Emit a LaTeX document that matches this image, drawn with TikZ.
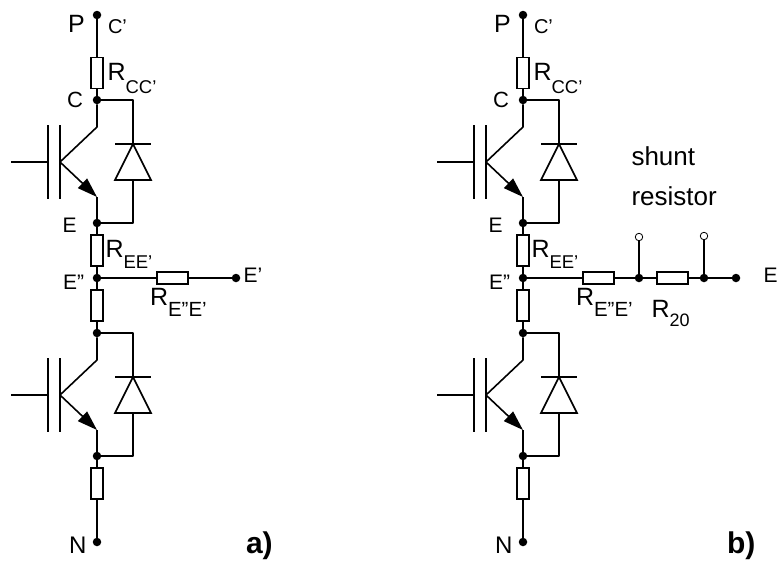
\documentclass[tikz,border=0pt]{standalone}
\usepackage{fontspec}
\setmainfont{Liberation Sans}
\usetikzlibrary{arrows.meta}
\newcommand{\fs}[1]{\fontsize{#1}{#1}\selectfont}
\newcommand{\Rlab}[3]{\fs{25}R\raisebox{-#2pt}{\fs{#3}#1}}
% one switch: collector dot at (0,0), emitter dot at (0,123)
\newcommand{\switchcell}[1]{%
  \node[dotn] (#1c) at (0,0) {};
  \node[dotn] (#1e) at (0,123) {};
  \coordinate (#1k) at (0,27);
  \coordinate (#1g) at (-37,62);
  \coordinate (#1m) at (0,97);
  \coordinate (#1gi) at (-86,62);
  \coordinate (#1gp) at (-49,62);
  \coordinate (#1tr) at (36,0);
  \coordinate (#1br) at (36,123);
  \coordinate (#1ap) at (36,44);
  \coordinate (#1bm) at (36,80);
  \draw[wire] (#1c) -- (#1k) -- (#1g);
  \draw[wire,-{Triangle[length=20pt,width=13pt]}] (#1g) -- (#1m);
  \draw[wire] (#1m) -- (#1e);
  \draw[wire] (#1gi) -- (#1gp);
  \draw[wire] (-49,25) -- (-49,99);
  \draw[wire] (-37,25) -- (-37,99);
  \draw[wire] (#1c) -- (#1tr) -- (#1ap);
  \draw[wire] (#1bm) -- (#1br) -- (#1e);
  \draw[wire] (18,44) -- (54,44);
  \draw[wire,line join=miter] (#1ap) -- (54,80) -- (18,80) -- cycle;
}
% complete vertical leg with its labels
\newcommand{\leg}[1]{%
  \node[dotn] (#1P) at (97,15) {};
  \node[resv] (#1Rc) at (97,73) {};
  \begin{scope}[shift={(97,100)}]\switchcell{#1u}\end{scope}
  \node[resv] (#1Re) at (97,250.5) {};
  \node[dotn] (#1M) at (97,278) {};
  \node[resv] (#1Rl) at (97,305.5) {};
  \begin{scope}[shift={(97,333)}]\switchcell{#1l}\end{scope}
  \node[resv] (#1Rn) at (97,483.5) {};
  \node[dotn] (#1N) at (97,542) {};
  \draw[wire] (#1P) -- (#1Rc) -- (#1uc);
  \draw[wire] (#1ue) -- (#1Re) -- (#1M) -- (#1Rl) -- (#1lc);
  \draw[wire] (#1le) -- (#1Rn) -- (#1N);
  \node[lab,font=\fs{25}] (#1tP) at (68,32) {P};
  \node[lab,font=\fs{20}] (#1tC1) at (108,33) {C'};
  \node[lab] (#1tR1) at (107.5,80) {\Rlab{CC'}{13}{18.5}};
  \node[lab,font=\fs{22}] (#1tC) at (67,107) {C};
  \node[lab,font=\fs{21}] (#1tE) at (62.5,232) {E};
  \node[lab] (#1tR2) at (105.5,257) {\Rlab{EE'}{11}{18.5}};
  \node[lab,font=\fs{21}] (#1tM) at (63,289) {E''};
  \node[lab,font=\fs{24}] (#1tN) at (69,553) {N};
  \node[lab] (#1tR3) at (150,305) {\Rlab{E''E'}{11}{20.5}};
}
\tikzset{
  wire/.style={line width=1.6pt,black,line cap=butt,line join=round},
  dotn/.style={circle,fill=black,draw=none,minimum size=8.5pt,inner sep=0pt,outer sep=0pt},
  opendot/.style={circle,fill=white,draw=black,line width=0.8pt,minimum size=7.5pt,inner sep=0pt,outer sep=0pt},
  resv/.style={rectangle,draw=black,fill=white,line width=1.6pt,minimum width=12pt,minimum height=31pt,inner sep=0pt,outer sep=0pt},
  resh/.style={rectangle,draw=black,fill=white,line width=1.6pt,minimum width=31pt,minimum height=12pt,inner sep=0pt,outer sep=0pt},
  lab/.style={anchor=base west,inner sep=0pt,outer sep=0pt,text=black},
}
\begin{document}
\begin{tikzpicture}[x=1pt,y=-1pt]
\useasboundingbox (0,0) rectangle (777,560);
\begin{scope}\leg{a}\end{scope}
\node[resh] (aRh) at (172.5,278) {};
\node[dotn] (aEnd) at (236,278) {};
\draw[wire] (aM) -- (aRh) -- (aEnd);
\node[lab,font=\fs{21}] (atEp) at (243.5,282) {E'};
\node[lab,font=\bfseries\fs{30}] (atA) at (246,553) {a)};
\begin{scope}[shift={(426,0)}]
\leg{b}
\node[resh] (bRh) at (172.5,278) {};
\node[dotn] (bJ1) at (213,278) {};
\node[opendot] (bO1) at (213,237) {};
\node[resh] (bR2) at (246.5,278) {};
\node[dotn] (bJ2) at (278,278) {};
\node[opendot] (bO2) at (278,236) {};
\node[dotn] (bEnd) at (310,278) {};
\draw[wire] (bM) -- (bRh) -- (bJ1) -- (bR2) -- (bJ2) -- (bEnd);
\draw[wire] (bJ1) -- (bO1);
\draw[wire] (bJ2) -- (bO2);
\node[lab,font=\fs{21}] (btE) at (337.5,282) {E};
\node[lab,font=\fs{26}] (btS) at (205.5,165) {shunt};
\node[lab,font=\fs{26}] (btRs) at (205.5,205) {resistor};
\node[lab] (btR20) at (225.5,317) {\Rlab{20}{9}{18}};
\node[lab,font=\bfseries\fs{30}] (btB) at (301,553) {b)};
\end{scope}
\end{tikzpicture}
\end{document}
